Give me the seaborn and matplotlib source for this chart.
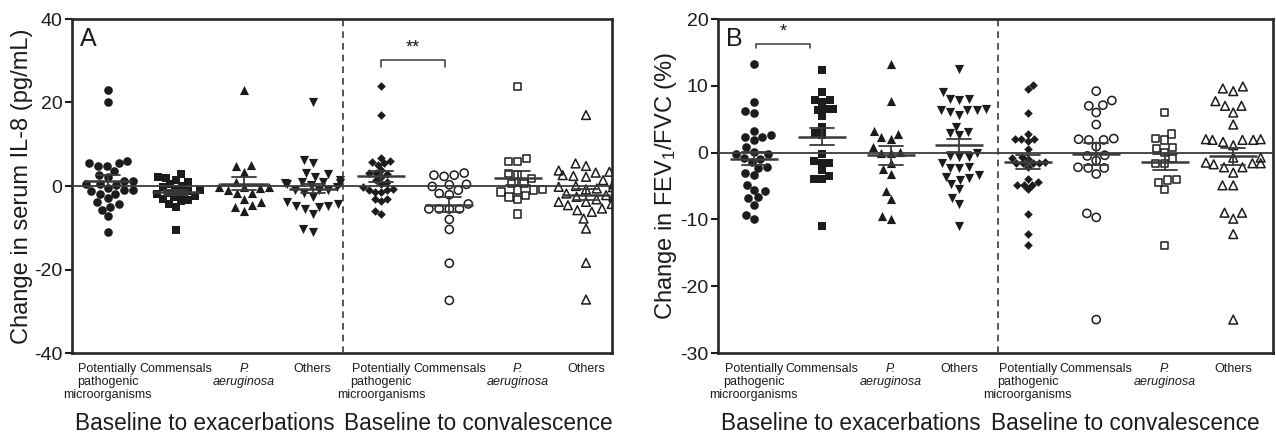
import numpy as np
import pandas as pd
import matplotlib
matplotlib.use("Agg")
import matplotlib.pyplot as plt
import matplotlib.transforms as mtransforms
import seaborn as sns

# ---------------------------------------------------------------
# Data (change from baseline, per patient)
# ---------------------------------------------------------------
group_keys = ["exa_ppm", "exa_com", "exa_pa", "exa_oth",
              "con_ppm", "con_com", "con_pa", "con_oth"]
tick_labels = ["Potentially\npathogenic\nmicroorganisms", "Commensals",
               "P.\naeruginosa", "Others"] * 2
period_labels = ["Baseline to exacerbations", "Baseline to convalescence"]

# Panel A: serum IL-8 (pg/mL)
il8_exa_ppm = [22.9, 20.0, 5.9, 5.4, 5.4, 4.7, 4.9, 3.6, 2.7, 2.2, 1.2, 1.2, 0.5, 0.5,
               0.3, -0.5, -0.9, -0.9, -1.2, -1.8, -1.8, -2.8, -3.9, -4.3, -5.1, -5.7,
               -7.3, -11.0]
il8_exa_com = [2.8, 2.2, 2.0, 1.5, 1.0, 0.5, 0.0, -0.3, -0.8, -1.0, -1.3, -1.6, -1.8,
               -2.0, -2.3, -2.6, -3.0, -3.3, -3.6, -4.2, -5.0, -10.5]
il8_exa_pa = [22.9, 5.0, 4.7, 3.4, 1.0, -0.2, -0.2, -0.2, -0.5, -0.9, -1.7, -1.7, -3.1,
              -3.9, -4.5, -5.1, -5.9]
il8_exa_oth = [20.2, 6.2, 5.4, 3.1, 2.8, 2.2, 1.5, 1.0, 1.0, 0.6, 0.6, 0.4, 0.2, -0.2,
               -0.9, -0.9, -1.0, -1.7, -2.7, -3.9, -4.3, -4.7, -4.9, -5.1, -5.5, -6.8,
               -10.3, -11.0]
il8_con_ppm = [23.9, 16.9, 6.7, 5.9, 5.8, 5.4, 5.0, 3.8, 3.1, 3.0, 2.8, 2.2, 1.4, 1.0,
               0.5, -0.3, -0.6, -0.9, -1.0, -1.4, -1.4, -3.1, -3.1, -3.5, -6.1, -6.7]
il8_con_com = [3.1, 2.6, 2.6, 2.3, 0.4, 0.3, -0.1, -1.0, -1.8, -2.1, -4.3, -5.5, -5.5,
               -5.5, -5.5, -8.0, -10.4, -18.5, -27.4]
il8_con_pa = [23.9, 6.6, 5.8, 5.8, 3.0, 2.6, 1.8, 0.6, 0.6, -0.9, -1.0, -1.0, -1.4,
              -2.2, -2.6, -3.3, -6.7]
il8_con_oth = [17.0, 5.4, 4.8, 3.7, 3.4, 3.2, 2.6, 2.4, 2.2, 1.4, 0.5, 0.0, -0.2, -0.3,
               -0.6, -0.8, -1.8, -2.2, -2.6, -2.6, -3.2, -3.8, -3.8, -4.3, -4.6, -5.4,
               -5.8, -6.2, -7.8, -10.2, -18.4, -27.2]

# Panel B: FEV1/FVC (%)
fev_exa_ppm = [13.2, 7.6, 6.2, 5.9, 3.3, 2.6, 2.4, 2.3, 1.9, 0.8, 0.1, -0.2, -0.2, -0.8,
               -0.9, -1.4, -2.2, -2.3, -3.1, -3.4, -4.8, -5.6, -5.8, -6.7, -6.8, -7.8,
               -9.3, -10.0]
fev_exa_com = [12.4, 9.0, 7.9, 7.8, 7.6, 6.5, 6.5, 6.4, 5.5, 3.9, 3.0, 2.6, -0.2, -1.2,
               -1.5, -1.5, -2.6, -3.5, -4.0, -4.0, -11.0]
fev_exa_pa = [13.2, 7.7, 3.3, 2.8, 2.4, 2.0, 0.8, 0.1, 0.0, 0.0, -1.5, -2.4, -3.2, -5.8,
              -7.0, -9.5, -10.0]
fev_exa_oth = [12.5, 9.0, 8.0, 8.0, 7.8, 6.6, 6.4, 6.4, 6.4, 6.1, 5.6, 3.9, 3.1, 2.9,
               2.6, 0.0, -0.5, -0.6, -0.6, -1.5, -2.1, -2.3, -2.3, -3.4, -3.6, -3.8,
               -4.1, -4.7, -5.5, -6.8, -7.7, -11.0]
fev_con_ppm = [10.1, 9.5, 6.0, 2.8, 2.1, 2.0, 2.0, 1.8, 0.6, -0.6, -0.8, -1.0, -1.4,
               -1.5, -1.5, -1.6, -1.6, -2.2, -4.0, -4.4, -4.8, -4.8, -4.8, -5.5, -9.2,
               -12.2, -13.9]
fev_con_com = [9.2, 7.8, 7.1, 7.0, 6.0, 4.2, 2.1, 2.0, 1.9, 1.9, 0.9, -0.4, -0.5, -1.2,
               -2.2, -2.3, -2.3, -3.2, -9.1, -9.7, -25.0]
fev_con_pa = [6.0, 2.8, 2.1, 1.9, 0.8, 0.6, 0.0, -0.9, -1.6, -1.6, -4.0, -4.1, -4.5,
              -5.5, -13.9]
fev_con_oth = [9.9, 9.6, 9.2, 7.7, 7.0, 7.0, 6.0, 4.2, 2.0, 2.0, 1.9, 1.9, 1.9, 1.6,
               1.1, -0.75, -0.75, -1.5, -1.6, -1.6, -1.75, -2.2, -2.2, -3.0, -4.9, -4.9,
               -9.0, -9.0, -9.9, -12.2, -25.0]

il8_groups = [il8_exa_ppm, il8_exa_com, il8_exa_pa, il8_exa_oth,
              il8_con_ppm, il8_con_com, il8_con_pa, il8_con_oth]
fev_groups = [fev_exa_ppm, fev_exa_com, fev_exa_pa, fev_exa_oth,
              fev_con_ppm, fev_con_com, fev_con_pa, fev_con_oth]

# marker style per group: (marker, size, filled)
marker_styles = [("o", 6.2, True), ("s", 5.3, True), ("^", 6.6, True), ("v", 6.6, True),
                 ("D", 4.4, True), ("o", 5.9, False), ("s", 5.3, False), ("^", 6.3, False)]

# ---------------------------------------------------------------
# Style
# ---------------------------------------------------------------
sns.set_style("white")
plt.rcParams["font.family"] = ["Liberation Sans", "DejaVu Sans"]
plt.rcParams["mathtext.fontset"] = "custom"
plt.rcParams["mathtext.rm"] = "Liberation Sans"
plt.rcParams["mathtext.it"] = "Liberation Sans:italic"
plt.rcParams["axes.unicode_minus"] = False

INK = "#1c1c1c"
LINE = "#3a3a3a"


def to_frame(groups):
    rows = []
    for key, vals in zip(group_keys, groups):
        for v in vals:
            rows.append((key, v))
    return pd.DataFrame(rows, columns=["group", "value"])


def draw_panel(ax, groups, ylim, yticks, ylabel, letter, divider, xright, bracket, stars):
    df = to_frame(groups)
    ax.axhline(0, color=LINE, lw=1.3, zorder=1)
    ax.axvline(divider, color=LINE, lw=1.2, ls=(0, (4, 3)), zorder=1)

    for key, (mk, sz, filled) in zip(group_keys, marker_styles):
        n_before = len(ax.collections)
        sns.swarmplot(data=df[df["group"] == key], x="group", y="value", order=group_keys,
                      marker=mk, size=sz, color=INK, linewidth=0, ax=ax, zorder=3)
        if not filled:
            for coll in ax.collections[n_before:]:
                coll.set_facecolor("none")
                coll.set_edgecolor(INK)
                coll.set_linewidth(1.1)

    # mean +/- SEM
    sns.pointplot(data=df, x="group", y="value", order=group_keys, estimator="mean",
                  errorbar="se", capsize=0.35, color=LINE, markers="_", linestyle="none",
                  markersize=34, markeredgewidth=1.8, err_kws={"linewidth": 1.3}, ax=ax)
    for ln in ax.lines:
        ln.set_zorder(4)

    # significance bracket
    bx0, bx1, by, bdrop = bracket
    ax.plot([bx0, bx0, bx1, bx1], [by - bdrop, by, by, by - bdrop], color=LINE, lw=1.1,
            clip_on=False)
    ax.text((bx0 + bx1) / 2, by + bdrop * 0.6, stars, ha="center", va="bottom",
            fontsize=13, color=INK)

    ax.set_ylim(*ylim)
    ax.set_yticks(yticks)
    ax.set_xlim(-0.52, xright)
    ax.set_xticks(range(len(group_keys)))
    ax.set_xticklabels(tick_labels, fontsize=9, color=INK, linespacing=1.1)
    for lab in ax.get_xticklabels():
        if "aeruginosa" in lab.get_text():
            lab.set_fontstyle("italic")
    ax.tick_params(axis="x", length=0, pad=7)
    ax.tick_params(axis="y", length=5, width=1.5, labelsize=14, colors=INK, pad=2,
                   direction="out", left=True)
    ax.set_xlabel("")
    ax.set_ylabel(ylabel, fontsize=17, color=INK, labelpad=1)
    for sp in ax.spines.values():
        sp.set_visible(True)
        sp.set_linewidth(1.9)
        sp.set_color("#262626")

    ax.text(0.015, 0.975, letter, transform=ax.transAxes, ha="left", va="top",
            fontsize=18, color=INK)

    trans = mtransforms.blended_transform_factory(ax.transData, ax.transAxes)
    ax.text(1.42, -0.21, period_labels[0], transform=trans, ha="center", va="center",
            fontsize=16.3, color=INK)
    ax.text(5.42, -0.21, period_labels[1], transform=trans, ha="center", va="center",
            fontsize=16.3, color=INK)


fig = plt.figure(figsize=(12.76, 4.36), dpi=100)
ax_a = fig.add_axes([72 / 1276, 1 - 353 / 436, (612 - 72) / 1276, (353 - 19) / 436])
ax_b = fig.add_axes([718 / 1276, 1 - 353 / 436, (1273 - 718) / 1276, (353 - 19) / 436])

draw_panel(ax_a, il8_groups, (-40, 40), [-40, -20, 0, 20, 40],
           "Change in serum IL-8 (pg/mL)", "A", 3.45, 7.38, (4.0, 4.94, 30.1, 1.5), "**")
draw_panel(ax_b, fev_groups, (-30, 20), [-30, -20, -10, 0, 10, 20],
           r"Change in FEV$_{\mathrm{1}}$/FVC (%)", "B", 3.57, 7.58, (0.04, 0.82, 16.3, 0.7), "*")

fig.savefig("out.png", dpi=100)
